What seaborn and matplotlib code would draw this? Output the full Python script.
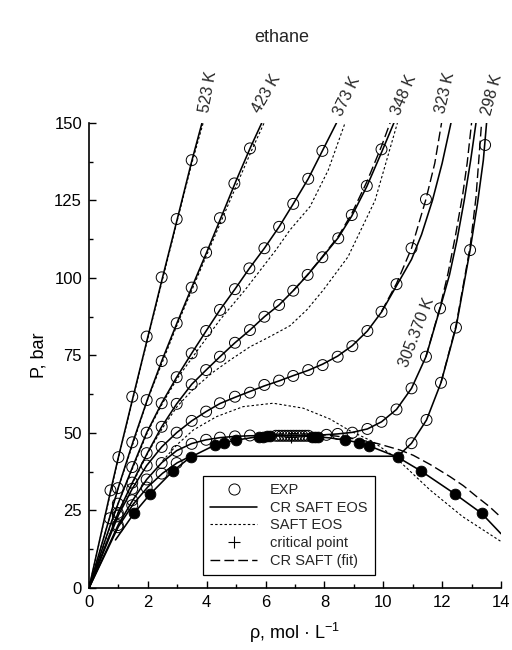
import matplotlib
matplotlib.use("Agg")
import matplotlib.pyplot as plt
import seaborn as sns
from matplotlib.lines import Line2D
from matplotlib.ticker import MultipleLocator

# ---------------- ethane isotherms: density (mol/L) vs pressure (bar) ----------------
# 523 K
rho_523_cr = [0, 0.75, 1.0, 1.5, 2.0, 2.5, 3.0, 3.5, 3.84]
p_523_cr = [0, 32.0, 42.2, 61.7, 81.0, 100.2, 119.0, 138.0, 150.0]
rho_523_saft = [0, 1.0, 2.0, 3.0, 3.5, 3.88]
p_523_saft = [0, 42.0, 80.6, 118.5, 137.2, 150.0]
rho_523_exp = [0.73, 1.0, 1.47, 1.96, 2.47, 2.98, 3.49]
p_523_exp = [31.5, 42.2, 61.7, 81.1, 100.2, 119.0, 138.0]

# 423 K
rho_423_cr = [0, 0.75, 1.0, 1.5, 2.0, 2.5, 3.0, 3.5, 4.0, 4.5, 5.0, 5.5, 5.87]
p_423_cr = [0, 24.3, 32.5, 47.3, 61.2, 73.9, 85.7, 97.1, 108.3, 119.8, 131.4, 142.4, 150.0]
rho_423_saft = [0, 1.0, 2.0, 3.0, 4.0, 4.5, 5.0, 5.5, 5.95]
p_423_saft = [0, 32.4, 61.0, 85.0, 107.4, 118.5, 129.6, 140.6, 150.0]
rho_423_exp = [0.71, 0.98, 1.47, 1.96, 2.47, 2.98, 3.49, 3.98, 4.45, 4.94, 5.47]
p_423_exp = [22.5, 32.2, 47.0, 60.6, 73.2, 85.4, 96.9, 108.2, 119.3, 130.5, 141.8]

# 373 K
rho_373_cr = [0, 0.75, 1.0, 1.5, 1.96, 2.47, 2.98, 3.49, 3.98, 4.45, 4.96, 5.45,
              5.96, 6.46, 6.94, 7.45, 7.93, 8.41]
p_373_cr = [0, 21.0, 27.5, 39.5, 50.1, 59.6, 68.0, 75.7, 82.9, 89.7, 96.4, 103.1,
            109.6, 116.5, 123.9, 132.0, 141.0, 150.0]
rho_373_saft = [0, 1.0, 2.0, 2.5, 3.0, 3.66, 4.45, 5.3, 6.35, 6.83, 7.51, 8.13, 8.7]
p_373_saft = [0, 27.5, 50.5, 59.6, 67.6, 76.3, 86.5, 96.1, 109.0, 115.5, 123.0, 134.8, 150.0]
rho_373_exp = [0.98, 1.47, 1.96, 2.47, 2.98, 3.49, 3.98, 4.45, 4.96, 5.45, 5.96, 6.46,
               6.94, 7.45, 7.93]
p_373_exp = [27.2, 39.0, 50.1, 59.6, 68.0, 75.7, 82.9, 89.7, 96.4, 103.1, 109.6, 116.5,
             123.9, 132.0, 141.0]

# 348 K
rho_348_cr = [0, 1.0, 1.5, 2.0, 2.47, 2.98, 3.49, 3.98, 4.45, 4.96, 5.47, 5.96, 6.46,
              6.94, 7.43, 7.93, 8.47, 8.93, 9.44, 9.94, 10.36]
p_348_cr = [0, 24.5, 34.5, 43.8, 52.0, 59.4, 65.7, 70.3, 74.6, 79.1, 83.2, 87.5, 91.3,
            95.9, 101.0, 106.7, 113.0, 120.0, 129.5, 140.5, 150.0]
rho_348_saft = [0, 1.0, 2.0, 2.5, 3.0, 3.55, 4.2, 4.79, 5.47, 6.15, 6.83, 7.4, 7.96,
                8.8, 9.72, 10.48]
p_348_saft = [0, 24.5, 43.6, 51.6, 58.6, 64.2, 69.5, 73.5, 77.8, 81.1, 84.6, 89.7, 96.1,
              106.8, 125.0, 150.0]
rho_348_fit = [6.94, 7.43, 7.93, 8.47, 8.93, 9.44, 9.94, 10.23]
p_348_fit = [95.9, 101.1, 106.9, 113.4, 120.8, 131.0, 142.5, 150.0]
rho_348_exp = [0.98, 1.47, 1.96, 2.47, 2.98, 3.49, 3.98, 4.45, 4.96, 5.47, 5.96, 6.46,
               6.94, 7.43, 7.93, 8.47, 8.93, 9.44, 9.94]
p_348_exp = [24.2, 34.0, 43.5, 52.0, 59.4, 65.7, 70.3, 74.6, 79.1, 83.2, 87.5, 91.3,
             95.9, 101.0, 106.7, 112.8, 120.3, 129.7, 141.5]

# 323 K
rho_323_cr = [0, 1.0, 1.47, 1.96, 2.47, 2.98, 3.49, 3.98, 4.45, 4.96, 5.47, 5.96, 6.46,
              6.94, 7.45, 7.94, 8.45, 8.95, 9.46, 9.94, 10.45, 10.96, 11.3, 11.67, 12.0, 12.3]
p_323_cr = [0, 23.5, 32.0, 39.5, 45.5, 50.1, 53.9, 56.9, 59.5, 61.5, 63.4, 65.2, 66.8,
            68.5, 70.2, 72.2, 74.8, 78.2, 82.9, 89.0, 97.5, 106.0, 114.0, 125.0, 137.0, 150.0]
rho_323_fit = [9.94, 10.45, 10.96, 11.45, 11.75, 11.98]
p_323_fit = [89.2, 98.2, 109.6, 125.4, 137.0, 150.0]
rho_323_exp = [0.98, 1.47, 1.96, 2.47, 2.98, 3.49, 3.98, 4.45, 4.96, 5.47, 5.96, 6.46,
               6.94, 7.45, 7.94, 8.45, 8.95, 9.46, 9.94, 10.45, 10.96, 11.45]
p_323_exp = [23.3, 32.0, 39.5, 45.5, 50.1, 53.9, 56.9, 59.6, 61.7, 63.0, 65.5, 66.9,
             68.4, 70.3, 71.9, 74.6, 78.0, 82.9, 89.1, 98.0, 109.6, 125.4]

# 305.370 K (near critical)
rho_305_cr = [0, 1.0, 1.5, 1.96, 2.47, 2.98, 3.49, 3.98, 4.45, 4.96, 5.47, 6.0, 6.9,
              7.8, 8.45, 8.95, 9.46, 9.94, 10.45, 10.96, 11.45, 11.93, 12.25, 12.5,
              12.75, 12.97, 13.15]
p_305_cr = [0, 20.5, 28.5, 35.0, 40.4, 44.3, 46.6, 47.8, 48.5, 48.9, 49.1, 49.2, 49.2,
            49.3, 49.7, 50.2, 51.3, 53.6, 57.6, 64.4, 74.6, 90.2, 101.0, 112.0,
            125.0, 138.0, 150.0]
rho_305_fit = [11.45, 11.93, 12.2, 12.45, 12.7, 12.85, 13.0]
p_305_fit = [74.6, 90.6, 101.5, 113.5, 127.0, 137.0, 150.0]
rho_305_exp = [0.98, 1.47, 1.96, 2.47, 2.98, 3.49, 3.98, 4.45, 4.96, 5.47,
               6.35, 6.45, 6.55, 6.65, 6.75, 6.85, 6.95, 7.05, 7.15, 7.25, 7.35, 7.45,
               8.07, 8.45, 8.95, 9.46, 9.94, 10.45, 10.96, 11.45, 11.93]
p_305_exp = [20.3, 28.3, 35.0, 40.3, 44.2, 46.5, 47.8, 48.5, 48.9, 49.2,
             49.1, 49.1, 49.1, 49.1, 49.1, 49.1, 49.1, 49.1, 49.1, 49.1, 49.1, 49.1,
             49.4, 49.7, 50.1, 51.3, 53.6, 57.6, 64.4, 74.6, 90.2]

# 298 K (with vapour-liquid tie line)
rho_298_cr = [0, 1.0, 1.5, 2.0, 2.5, 3.0, 3.45, 10.5, 10.96, 11.47, 11.96, 12.47,
              12.95, 13.2, 13.4, 13.51]
p_298_cr = [0, 19.8, 27.0, 32.6, 37.0, 40.4, 42.5, 42.5, 46.7, 54.2, 66.2, 84.0,
            109.0, 124.0, 138.0, 150.0]
rho_298_fit = [11.96, 12.47, 12.95, 13.15, 13.34]
p_298_fit = [66.2, 84.5, 110.0, 126.0, 150.0]
rho_298_exp = [0.98, 1.47, 1.96, 2.47, 2.98, 10.96, 11.47, 11.96, 12.47, 12.95, 13.46]
p_298_exp = [19.6, 26.7, 32.4, 36.9, 40.3, 46.7, 54.2, 66.2, 84.0, 109.0, 142.9]

# Saturation (coexistence) data and models
rho_sat_exp = [1.53, 2.07, 2.86, 3.45, 4.28, 4.59, 5.0, 5.78, 5.92, 6.05, 6.15,
               7.57, 7.68, 7.79, 8.7, 9.18, 9.53, 10.49, 11.27, 12.44, 13.34]
p_sat_exp = [24.1, 30.2, 37.8, 42.2, 46.1, 46.9, 47.7, 48.6, 48.8, 48.9, 49.0,
             48.8, 48.8, 48.7, 47.7, 46.9, 45.8, 42.2, 37.8, 30.3, 24.1]
rho_sat_cr = [0.9, 1.53, 2.07, 2.86, 3.45, 4.28, 4.59, 5.0, 5.6, 6.2, 6.9, 7.6, 8.2,
              8.7, 9.18, 9.53, 10.49, 11.27, 12.44, 13.34, 14.0]
p_sat_cr = [15.5, 24.1, 30.2, 37.8, 42.2, 46.1, 46.9, 47.7, 48.6, 49.0, 49.1, 48.9,
            48.4, 47.7, 46.9, 45.8, 42.2, 37.8, 30.3, 24.1, 17.5]
rho_sat_saft = [2.5, 3.0, 3.55, 4.34, 5.24, 6.26, 7.28, 8.19, 8.87, 9.65, 10.45,
                11.59, 12.7, 14.0]
p_sat_saft = [41.0, 46.3, 51.0, 55.3, 58.5, 59.6, 58.0, 54.5, 50.7, 47.2, 41.8,
              31.6, 23.0, 15.0]
rho_sat_fit = [6.3, 7.0, 7.7, 8.4, 9.1, 9.8, 10.57, 11.02, 11.6, 12.27, 12.72,
               13.17, 13.6, 14.0]
p_sat_fit = [49.6, 49.8, 49.6, 49.0, 48.0, 46.6, 44.5, 42.8, 39.8, 35.9, 33.0,
             29.5, 26.3, 22.8]

rho_crit = [6.87]
p_crit = [48.7]

# isotherm labels: text, density, pressure, angle
label_text = ["523 K", "423 K", "373 K", "348 K", "323 K", "298 K", "305.370 K"]
label_rho = [4.05, 6.02, 8.76, 10.70, 12.10, 13.71, 11.13]
label_p = [160.0, 159.5, 158.5, 159.0, 159.8, 159.0, 82.6]
label_rot = [80, 60, 64, 67, 77, 75, 69]

# ---------------- drawing ----------------
sns.set_theme(style="ticks")
plt.rcParams["font.family"] = ["Liberation Sans", "DejaVu Sans"]
plt.rcParams["mathtext.fontset"] = "custom"
plt.rcParams["mathtext.rm"] = "Liberation Sans"
plt.rcParams["mathtext.it"] = "Liberation Sans:italic"

fig = plt.figure(figsize=(5.12, 6.5), dpi=100)
ax = fig.add_axes([0.1738, 0.0954, 0.8047, 0.7154])

SOLID = dict(color="black", linewidth=1.15, linestyle="-")
DOTTED = dict(color="black", linewidth=0.8, linestyle=(0, (2.2, 2.0)))
DASHED = dict(color="black", linewidth=1.0, linestyle=(0, (7, 3)))


def curve(rho, p, style):
    sns.lineplot(x=rho, y=p, ax=ax, sort=False, estimator=None, legend=False,
                 **style)


def circles(rho, p, filled=False):
    if filled:
        sns.scatterplot(x=rho, y=p, ax=ax, marker="o", s=60, color="black",
                        edgecolor="black", linewidth=0.6, legend=False, zorder=4)
    else:
        sns.scatterplot(x=rho, y=p, ax=ax, marker="o", s=62, facecolors="none",
                        edgecolor="black", linewidth=0.7, legend=False, zorder=3)


# model curves
curve(rho_523_saft, p_523_saft, DOTTED)
curve(rho_523_cr, p_523_cr, SOLID)
curve(rho_423_saft, p_423_saft, DOTTED)
curve(rho_423_cr, p_423_cr, SOLID)
curve(rho_373_saft, p_373_saft, DOTTED)
curve(rho_373_cr, p_373_cr, SOLID)
curve(rho_348_saft, p_348_saft, DOTTED)
curve(rho_348_cr, p_348_cr, SOLID)
curve(rho_348_fit, p_348_fit, DASHED)
curve(rho_323_cr, p_323_cr, SOLID)
curve(rho_323_fit, p_323_fit, DASHED)
curve(rho_305_cr, p_305_cr, SOLID)
curve(rho_305_fit, p_305_fit, DASHED)
curve(rho_298_cr, p_298_cr, SOLID)
curve(rho_298_fit, p_298_fit, DASHED)
curve(rho_sat_cr, p_sat_cr, SOLID)
curve(rho_sat_saft, p_sat_saft, DOTTED)
curve(rho_sat_fit, p_sat_fit, DASHED)

# experimental points
for r, p in [(rho_523_exp, p_523_exp), (rho_423_exp, p_423_exp),
             (rho_373_exp, p_373_exp), (rho_348_exp, p_348_exp),
             (rho_323_exp, p_323_exp), (rho_305_exp, p_305_exp),
             (rho_298_exp, p_298_exp)]:
    circles(r, p)
circles(rho_sat_exp, p_sat_exp, filled=True)
ax.plot(rho_crit, p_crit, marker="+", markersize=9, markeredgewidth=0.8,
        color="black", linestyle="none", zorder=5)

for t, r, p, a in zip(label_text, label_rho, label_p, label_rot):
    ax.text(r, p, t, rotation=a, ha="center", va="center", fontsize=11.5,
            rotation_mode="anchor", clip_on=False)

# axes
ax.set_xlim(0, 14)
ax.set_ylim(0, 150)
ax.xaxis.set_major_locator(MultipleLocator(2))
ax.xaxis.set_minor_locator(MultipleLocator(1))
ax.yaxis.set_major_locator(MultipleLocator(25))
ax.yaxis.set_minor_locator(MultipleLocator(12.5))
ax.tick_params(which="both", direction="in", color="black", width=1.0,
               labelsize=12, labelcolor="black")
ax.tick_params(which="major", length=5, pad=5)
ax.tick_params(which="minor", length=3)
sns.despine(ax=ax)
for s in ("left", "bottom"):
    ax.spines[s].set_color("black")
    ax.spines[s].set_linewidth(1.2)
ax.set_facecolor("white")
ax.set_xlabel(r"ρ, mol · L$^{-1}$", fontsize=13, color="black", labelpad=8)
ax.set_ylabel("P, bar", fontsize=13, color="black", labelpad=5)
fig.text(0.55, 0.943, "ethane", ha="center", va="center", fontsize=13)

handles = [
    Line2D([], [], marker="o", markersize=8, markerfacecolor="none",
           markeredgecolor="black", markeredgewidth=0.7, linestyle="none"),
    Line2D([], [], **SOLID),
    Line2D([], [], **DOTTED),
    Line2D([], [], marker="+", markersize=9, markeredgewidth=0.8,
           color="black", linestyle="none"),
    Line2D([], [], **DASHED),
]
labels = ["EXP", "CR SAFT EOS", "SAFT EOS", "critical point", "CR SAFT (fit)"]
leg = ax.legend(handles, labels, loc="lower left", bbox_to_anchor=(0.277, 0.028),
                borderaxespad=0, fontsize=10.5, frameon=True, fancybox=False,
                edgecolor="black", handlelength=3.2, handletextpad=0.9,
                labelspacing=0.25, borderpad=0.5, framealpha=1)
leg.get_frame().set_linewidth(0.9)
leg.set_zorder(10)

fig.savefig("out.png", dpi=100, facecolor="white")
